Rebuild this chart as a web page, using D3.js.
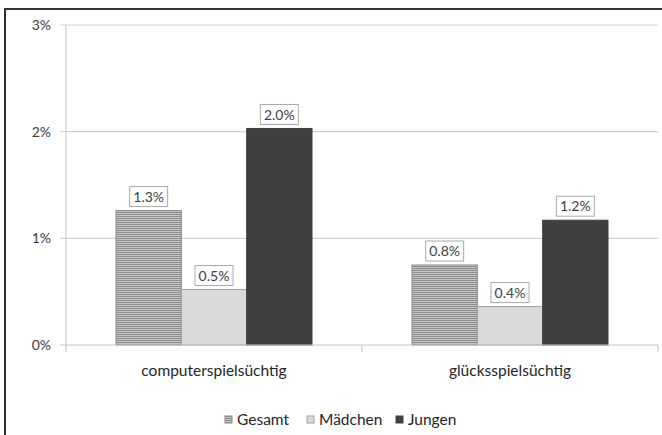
<!DOCTYPE html>
<html><head><meta charset="utf-8">
<script src="https://cdn.jsdelivr.net/npm/d3@7"></script>
<style>body{margin:0;background:#fff;}svg{display:block;font-family:Lato,"Open Sans",sans-serif;}</style>
</head><body>
<svg id="c" width="662" height="435"></svg>
<script>
const categories = ["computerspielsüchtig", "glücksspielsüchtig"];
const seriesNames = ["Gesamt", "Mädchen", "Jungen"];
const gesamt = [1.26, 0.75];
const maedchen = [0.52, 0.36];
const jungen = [2.03, 1.17];
const labelGesamt = ["1.3%", "0.8%"];
const labelMaedchen = ["0.5%", "0.4%"];
const labelJungen = ["2.0%", "1.2%"];
const yTicks = [0, 1, 2, 3];
const yTickLabels = ["0%", "1%", "2%", "3%"];

const values = [gesamt, maedchen, jungen];
const labels = [labelGesamt, labelMaedchen, labelJungen];

const svg = d3.select("#c");
const defs = svg.append("defs");
const pat = defs.append("pattern").attr("id","hatch").attr("patternUnits","userSpaceOnUse")
  .attr("width",4).attr("height",2);
pat.append("rect").attr("width",4).attr("height",2).attr("fill","#c8c8c8");
pat.append("rect").attr("width",4).attr("height",1).attr("fill","#8c8c8c");

const fills = ["url(#hatch)", "#d9d9d9", "#404040"];
const strokes = ["#8a8a8a", "#a0a0a0", "#404040"];

// outer frame
svg.append("rect").attr("x",5).attr("y",9).attr("width",700).attr("height",500)
  .attr("fill","none").attr("stroke","#333").attr("stroke-width",2);

const x0 = d3.scaleBand().domain(categories).range([66, 658]).paddingInner(0).paddingOuter(0);
const x1 = d3.scaleBand().domain(seriesNames).range([50, 246]);
const y = d3.scaleLinear().domain([0, 3]).range([345, 25]);

// gridlines
svg.append("g").selectAll("line").data(yTicks.filter(d=>d>0)).join("line")
  .attr("x1",60).attr("x2",658).attr("y1",d=>y(d)).attr("y2",d=>y(d))
  .attr("stroke","#d0d0d0").attr("stroke-width",1.2);

// y axis line
svg.append("line").attr("x1",66).attr("x2",66).attr("y1",y(3)).attr("y2",y(0))
  .attr("stroke","#d0d0d0").attr("stroke-width",1.2);

// y labels
svg.append("g").selectAll("text").data(yTicks).join("text")
  .attr("x",51).attr("y",d=>y(d)).attr("dy","0.35em").attr("text-anchor","end")
  .attr("font-size",14).attr("fill","#404040").text((d,i)=>yTickLabels[i]);

// bars
categories.forEach((c, ci) => {
  seriesNames.forEach((s, si) => {
    const v = values[si][ci];
    const bx = x0(c) + x1(s);
    const bw = x1.bandwidth();
    svg.append("rect").attr("x",bx).attr("y",y(v)).attr("width",bw).attr("height",y(0)-y(v))
      .attr("fill",fills[si]).attr("stroke",strokes[si]).attr("stroke-width",1);
    const cx = bx + bw/2;
    const t = labels[si][ci];
    const tw = 38, th = 20;
    svg.append("rect").attr("x",cx - tw/2).attr("y",y(v) - 4 - th).attr("width",tw).attr("height",th)
      .attr("fill","#fff").attr("stroke","#a8a8a8").attr("stroke-width",1);
    svg.append("text").attr("x",cx).attr("y",y(v) - 4 - th/2).attr("dy","0.36em")
      .attr("text-anchor","middle").attr("font-size",14).attr("fill","#404040").text(t);
  });
});

// x axis line + ticks
svg.append("line").attr("x1",60).attr("x2",658).attr("y1",y(0)).attr("y2",y(0))
  .attr("stroke","#c8c8c8").attr("stroke-width",1.2);
const tickXs = [x0.range()[0], x0(categories[1]), x0.range()[1]];
svg.append("g").selectAll("line").data(tickXs).join("line")
  .attr("x1",d=>d).attr("x2",d=>d).attr("y1",y(0)).attr("y2",y(0)+7)
  .attr("stroke","#c8c8c8").attr("stroke-width",1.2);

// category labels
svg.append("g").selectAll("text").data(categories).join("text")
  .attr("x",d=>x0(d)+x0.bandwidth()/2).attr("y",371).attr("dy","0.35em")
  .attr("text-anchor","middle").attr("font-size",15.5).attr("fill","#262626").text(d=>d);

// legend
const legX = [225, 307, 396];
seriesNames.forEach((s, i) => {
  svg.append("rect").attr("x",legX[i]).attr("y",416).attr("width",7).attr("height",7)
    .attr("fill",fills[i]).attr("stroke",strokes[i]).attr("stroke-width",1);
  svg.append("text").attr("x",legX[i]+12).attr("y",420).attr("dy","0.35em")
    .attr("font-size",15.5).attr("fill","#262626").text(s);
});
</script>
</body></html>
